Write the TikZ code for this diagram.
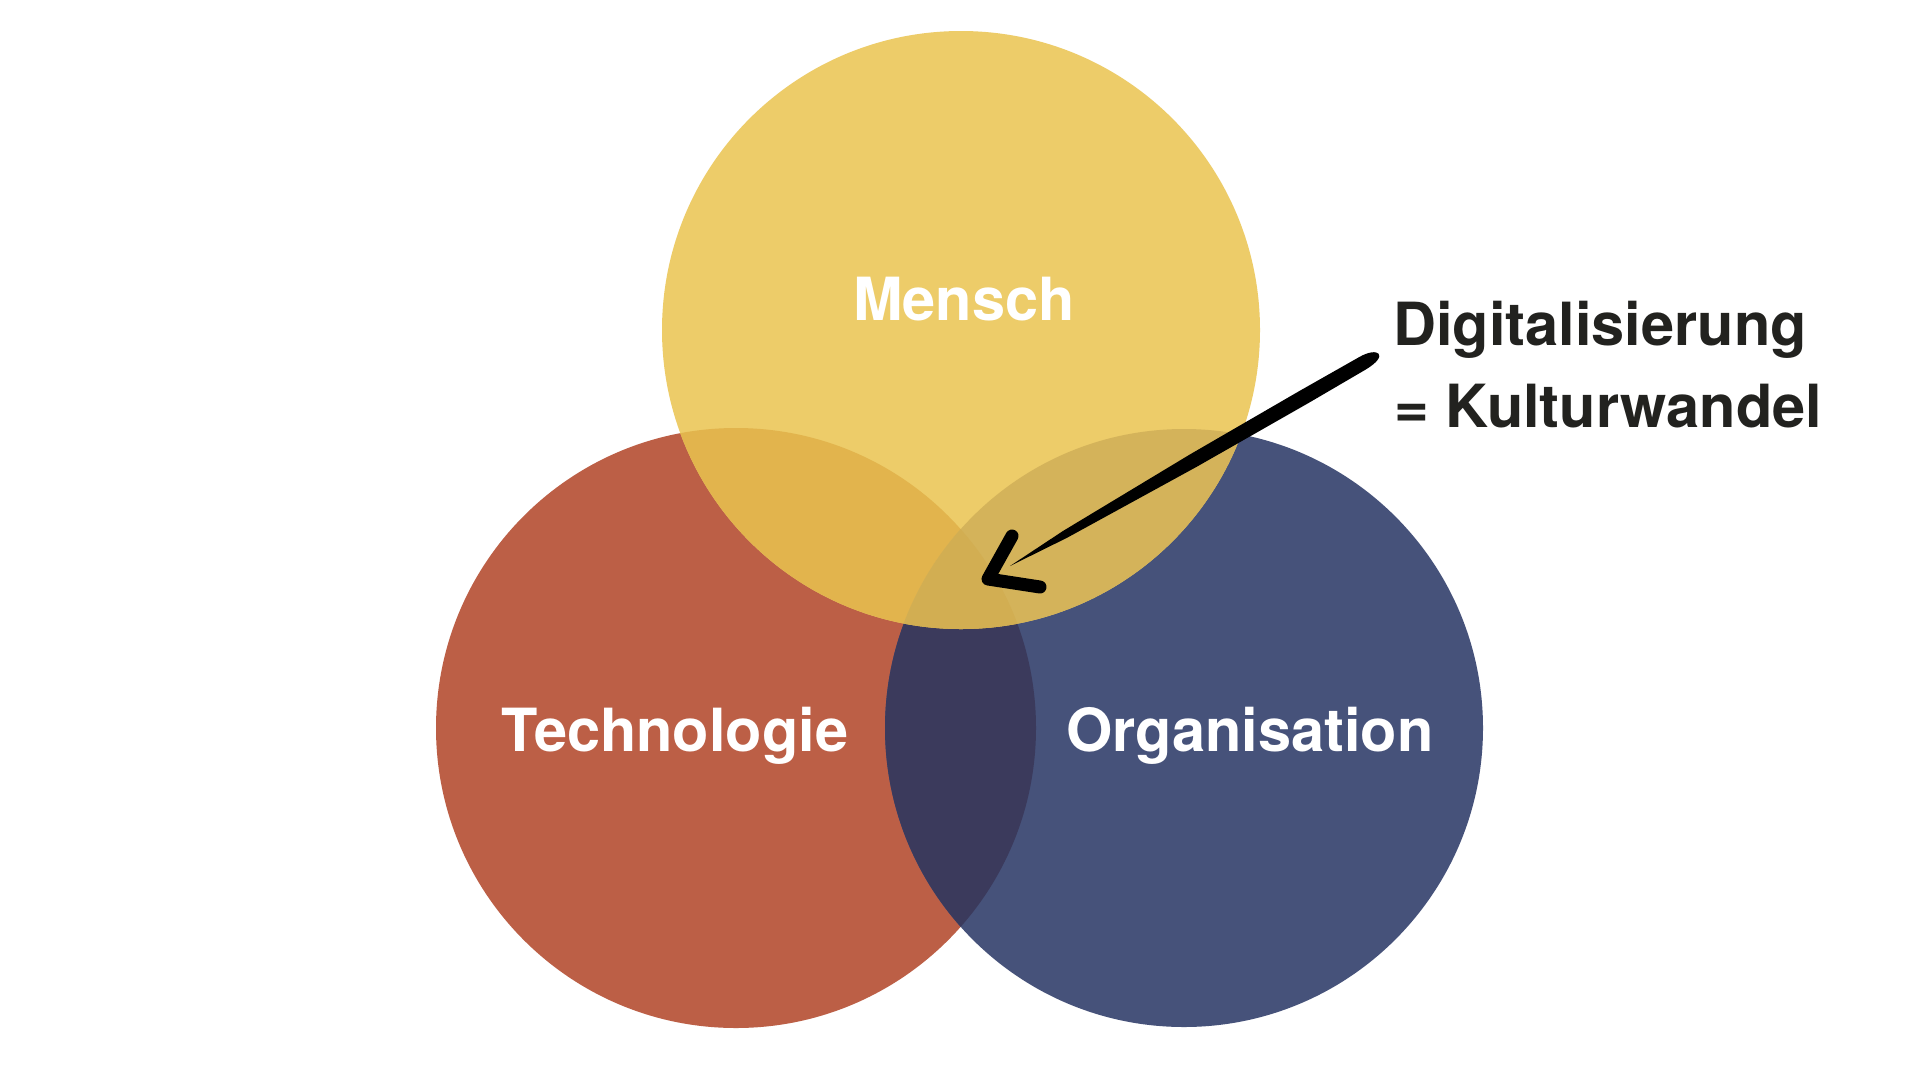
\documentclass[tikz,border=0pt]{standalone}
\usepackage{fontspec}
\setmainfont{TeX Gyre Heros}
\usepackage{tikz}
\usetikzlibrary{positioning}
\definecolor{gelb}{HTML}{EDCC69}
\definecolor{rot}{HTML}{BC5F46}
\definecolor{blau}{HTML}{46527A}
\definecolor{gelbrot}{HTML}{E2B44D}
\definecolor{gelbblau}{HTML}{D4B35A}
\definecolor{rotblau}{HTML}{3B3A5C}
\definecolor{alle}{HTML}{D2AE52}
\definecolor{schrift}{HTML}{22221F}
\begin{document}
\begin{tikzpicture}[x=1pt,y=-1pt,every node/.style={inner sep=0pt,font=\fontsize{59.5}{70}\selectfont\bfseries},
  kreis/.style={text=white,anchor=base},notiz/.style={text=schrift,anchor=base west}]
\useasboundingbox (0,0) rectangle (1920,1080);
\fill[white] (0,0) rectangle (1920,1080);
  \coordinate (m) at (961,330);
  \coordinate (t) at (736,728);
  \coordinate (o) at (1184,728);
  \fill[rot] (t) circle (300);
  \fill[blau] (o) circle (299);
  \fill[gelb] (m) circle (299);
\begin{scope}\clip (t) circle (300); \fill[rotblau] (o) circle (299);\end{scope}
\begin{scope}\clip (m) circle (299); \fill[gelbrot] (t) circle (300);\end{scope}
\begin{scope}\clip (m) circle (299); \fill[gelbblau] (o) circle (299);\end{scope}
\begin{scope}\clip (m) circle (299); \clip (t) circle (300); \fill[alle] (o) circle (299);\end{scope}
  \node[kreis] (mensch) at (964,320) {Mensch};
  \node[kreis] (technologie) at (675,751) {Technologie};
  \node[kreis] (organisation) at (1250,751) {Organisation};
  \node[notiz] (digital) at (1393,345) {Digitalisierung};
  \node[notiz] (kultur) at (1394,427) {= Kulturwandel};
% Pinselpfeil
\fill[black] (1010,566) -- (1063.1,530.9) -- (1190,454.4) -- (1299.9,390.7) -- (1358.8,357.3)
  .. controls (1378,346) and (1390,355) .. (1365.8,369.5) -- (1307.3,403.7) -- (1197,466.6) -- (1067,537.8) -- cycle;
\draw[black,line width=13pt,line cap=round,line join=round] (1012,536) -- (988,579) -- (1040,587);
  \end{tikzpicture}
\end{document}
